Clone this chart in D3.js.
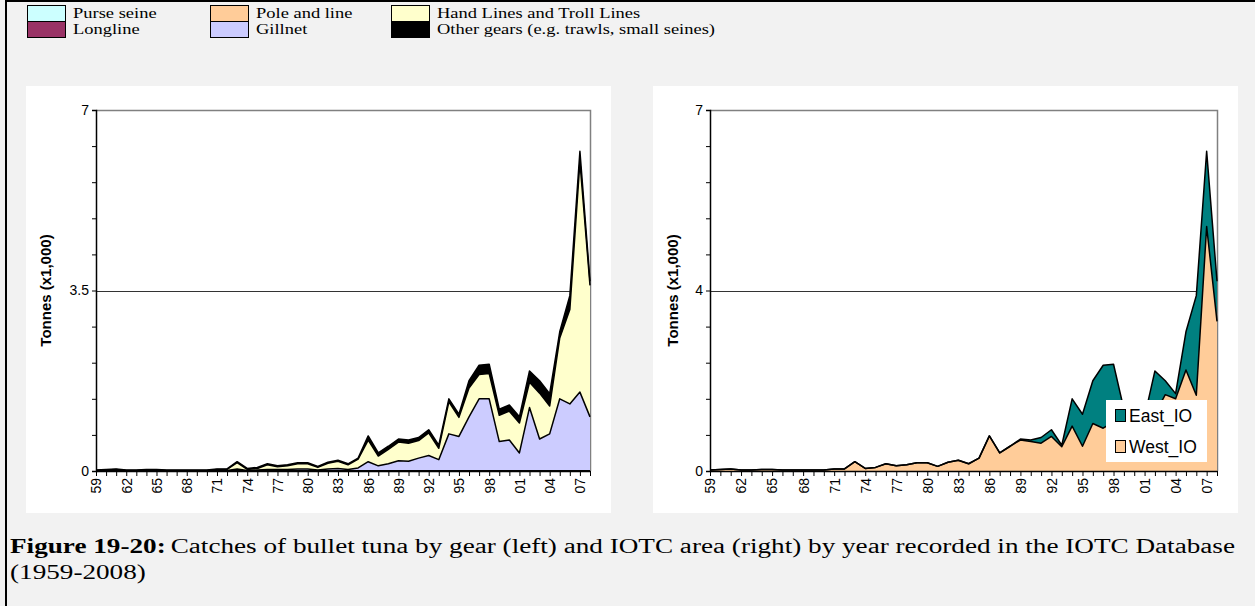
<!DOCTYPE html>
<html>
<head>
<meta charset="utf-8">
<script src="https://cdn.jsdelivr.net/npm/d3@7"></script>
<style>
  body { margin: 0; background: #f2f2f2; }
  svg text { font-family: "Liberation Sans", Arial, sans-serif; fill: #000; }
  svg text.serif { font-family: "Liberation Serif", "Times New Roman", serif; }
</style>
</head>
<body>
<script>
// Bullet tuna catches, thousands of tonnes, 1959-2008
var years = d3.range(1959, 2009);

var purseSeine = [0,0,0,0,0,0,0,0,0,0, 0,0,0,0,0,0,0,0,0,0, 0,0,0,0,0,0,0,0,0,0, 0,0,0,0,0,0,0,0,0,0, 0,0,0,0,0,0,0,0,0,0];
var longline   = [0,0,0,0,0,0,0,0,0,0, 0,0,0,0,0,0,0,0,0,0, 0,0,0,0,0,0,0,0,0,0, 0,0,0,0,0,0,0,0,0,0, 0,0,0,0,0,0,0,0,0,0];
var poleLine   = [0,0,0,0,0,0,0,0,0,0, 0,0,0,0,0,0,0,0,0,0, 0,0,0,0,0,0,0,0,0,0, 0,0,0,0,0,0,0,0,0,0, 0,0,0,0,0,0,0,0,0,0];
var gillnet    = [0,0,0,0,0,0,0,0,0,0, 0,0,0.01,0.01,0.04,0.01,0.02,0.03,0.03,0.03,
                  0.04,0.04,0.02,0.04,0.05,0.03,0.06,0.18,0.10,0.14,
                  0.20,0.19,0.25,0.30,0.22,0.72,0.67,1.05,1.40,1.40,
                  0.57,0.60,0.35,1.23,0.62,0.72,1.40,1.30,1.53,1.05];
var handTroll  = [0.01,0.02,0.03,0.01,0.01,0.02,0.02,0.01,0.01,0.01,
                  0.01,0.01,0.02,0.02,0.12,0.02,0.03,0.09,0.05,0.07,
                  0.10,0.10,0.05,0.11,0.14,0.09,0.17,0.42,0.19,0.28,
                  0.36,0.35,0.34,0.44,0.22,0.62,0.37,0.56,0.47,0.49,
                  0.51,0.56,0.58,0.49,0.89,0.54,1.18,1.83,4.47,2.55];
var otherGears = [0.01,0.01,0.01,0.01,0.01,0.01,0.01,0.01,0.01,0.01,
                  0.01,0.01,0.01,0.01,0.02,0.02,0.02,0.02,0.02,0.02,
                  0.02,0.02,0.02,0.02,0.02,0.02,0.02,0.08,0.06,0.06,
                  0.06,0.06,0.06,0.06,0.06,0.06,0.06,0.14,0.18,0.18,
                  0.12,0.12,0.12,0.22,0.24,0.24,0.12,0.27,0.20,0.08];

var westIO = [0.02,0.03,0.04,0.02,0.02,0.03,0.03,0.02,0.02,0.02,
              0.02,0.02,0.04,0.04,0.18,0.05,0.07,0.14,0.10,0.12,
              0.16,0.16,0.09,0.17,0.21,0.14,0.25,0.68,0.35,0.48,
              0.60,0.57,0.54,0.67,0.47,0.87,0.48,0.92,0.83,0.95,
              0.60,0.65,0.55,1.10,1.48,1.40,1.96,1.47,4.74,2.90];
var eastIO = [0,0,0,0,0,0,0,0,0,0, 0,0,0,0,0,0,0,0,0,0,
              0,0,0,0,0,0,0,0,0,0,
              0.02,0.03,0.11,0.13,0.03,0.53,0.62,0.83,1.22,1.12,
              0.60,0.63,0.50,0.84,0.27,0.10,0.74,1.93,1.46,0.78];

var gearNames  = ["Purse seine", "Longline", "Pole and line", "Gillnet", "Hand Lines and Troll Lines", "Other gears (e.g. trawls, small seines)"];
var gearColors = ["#ccffff", "#993366", "#ffcc99", "#ccccff", "#ffffcc", "#000000"];
var areaNames  = ["East_IO", "West_IO"];
var areaColors = ["#008080", "#ffcc99"];

var yTicks = [0, 0.7, 1.4, 2.1, 2.8, 3.5, 4.2, 4.9, 5.6, 6.3, 7];
var leftYLabels  = {0: "0", 3.5: "3.5", 7: "7"};
var rightYLabels = {0: "0", 3.5: "4", 7: "7"};
var yLabel = "Tonnes (x1,000)";
var captionBold = "Figure 19-20:";
var captionLine1 = "Catches of bullet tuna by gear (left) and IOTC area (right) by year recorded in the IOTC Database";
var captionLine2 = "(1959-2008)";

var W = 1255, H = 606;
var plotTop = 110, plotBottom = 471;

var svg = d3.select("body").append("svg")
    .attr("width", W)
    .attr("height", H);

svg.append("rect").attr("width", W).attr("height", H).attr("fill", "#f2f2f2");
// figure frame
svg.append("line").attr("x1", 6).attr("x2", 6).attr("y1", 0).attr("y2", H)
    .attr("stroke", "#000").attr("stroke-width", 2);
svg.append("line").attr("x1", 6).attr("x2", W).attr("y1", 1).attr("y2", 1)
    .attr("stroke", "#000").attr("stroke-width", 2);

// white chart panels
svg.append("rect").attr("x", 26).attr("y", 86).attr("width", 585).attr("height", 427).attr("fill", "#fff");
svg.append("rect").attr("x", 653).attr("y", 86).attr("width", 585).attr("height", 427).attr("fill", "#fff");

// ---- top legend (gears)
var legendCols = [27, 210, 391];
var gLeg = svg.append("g").attr("class", "gear-legend");
var legTexts = [];
gearNames.forEach(function(name, i) {
  var cx = legendCols[Math.floor(i / 2)],
      cy = 5 + (i % 2) * 16;
  gLeg.append("rect")
      .attr("x", cx + 0.5).attr("y", cy + 0.5)
      .attr("width", 38).attr("height", 16)
      .attr("fill", gearColors[i])
      .attr("stroke", "#000").attr("stroke-width", 1);
  legTexts.push(gLeg.append("text")
      .attr("class", "serif")
      .attr("x", cx + 46).attr("y", cy + 13)
      .style("font-size", "15.5px")
      .text(name));
});
// the source renders the legend text a bit wider than Liberation Serif: stretch to match
var legK = 278 / legTexts[5].node().getComputedTextLength();
legTexts.forEach(function(t) {
  t.attr("textLength", t.node().getComputedTextLength() * legK)
   .attr("lengthAdjust", "spacingAndGlyphs");
});

function drawChart(opts) {
  var g = svg.append("g");
  var x = d3.scalePoint().domain(years).range([opts.x0, opts.x1]);
  var y = d3.scaleLinear().domain([0, 7]).range([plotBottom, plotTop]);

  // plot frame (top / right) and gridline
  g.append("path")
      .attr("d", `M${opts.x0},${plotTop + 0.5}H${opts.x1 + 0.5}V${plotBottom}`)
      .attr("fill", "none").attr("stroke", "#808080").attr("stroke-width", 1.5);
  g.append("line")
      .attr("x1", opts.x0).attr("x2", opts.x1)
      .attr("y1", Math.round(y(3.5)) + 0.5).attr("y2", Math.round(y(3.5)) + 0.5)
      .attr("stroke", "#333").attr("stroke-width", 1);

  var stacked = d3.stack().keys(d3.range(opts.series.length))
      .value(function(d, k) { return opts.series[k][d]; })(d3.range(years.length));

  var area = d3.area()
      .x(function(d, i) { return x(years[i]); })
      .y0(function(d) { return y(d[0]); })
      .y1(function(d) { return y(d[1]); });
  var topLine = d3.line()
      .x(function(d, i) { return x(years[i]); })
      .y(function(d) { return y(d[1]); });

  g.append("g").selectAll("path")
      .data(stacked)
      .enter().append("path")
      .attr("d", area)
      .attr("fill", function(d, i) { return opts.colors[i]; });
  g.append("g").selectAll("path")
      .data(stacked)
      .enter().append("path")
      .attr("d", topLine)
      .attr("fill", "none")
      .attr("stroke", "#000")
      .attr("stroke-width", 1.5)
      .attr("stroke-linejoin", "round");

  // axes
  var yAxis = d3.axisLeft(y).tickValues(yTicks).tickSize(4)
      .tickFormat(function(d) { var k = Math.round(d * 10) / 10; return opts.yLabels[k] || ""; });
  var gy = g.append("g")
      .attr("transform", `translate(${opts.x0},0)`)
      .call(yAxis);
  gy.select(".domain").attr("stroke-width", 1.5);
  gy.selectAll("text").style("font-size", "14px").attr("x", -7);

  var xAxis = d3.axisBottom(x).tickSize(5).tickSizeOuter(0)
      .tickFormat(function(d) { return (d - 1959) % 3 === 0 ? String(d).slice(2) : ""; });
  var gx = g.append("g")
      .attr("transform", `translate(0,${plotBottom})`)
      .call(xAxis);
  gx.select(".domain").attr("stroke-width", 1.5);
  gx.selectAll("text")
      .style("font-size", "14px")
      .attr("transform", "rotate(-90)")
      .attr("text-anchor", "end")
      .attr("x", -7).attr("y", 0).attr("dy", "0.35em");

  g.append("text")
      .attr("transform", `translate(${opts.labelX},${(plotTop + plotBottom) / 2}) rotate(-90)`)
      .attr("text-anchor", "middle")
      .style("font-size", "15px").style("font-weight", "bold")
      .text(yLabel);
  return {x: x, y: y, g: g};
}

drawChart({
  x0: 96, x1: 590, labelX: 51,
  series: [purseSeine, longline, poleLine, gillnet, handTroll, otherGears],
  colors: gearColors,
  yLabels: leftYLabels
});

var right = drawChart({
  x0: 710, x1: 1217, labelX: 678,
  series: [westIO, eastIO],
  colors: [areaColors[1], areaColors[0]],
  yLabels: rightYLabels
});

// area legend inside the right plot
var lg = right.g.append("g").attr("transform", "translate(1106,400)");
lg.append("rect").attr("width", 101).attr("height", 62).attr("fill", "#fff");
areaNames.forEach(function(name, i) {
  lg.append("rect")
      .attr("x", 9.5).attr("y", 9.5 + i * 31)
      .attr("width", 10).attr("height", 12)
      .attr("fill", areaColors[i]).attr("stroke", "#000");
  lg.append("text")
      .attr("x", 23).attr("y", 22 + i * 31)
      .style("font-size", "17.5px")
      .text(name);
});

// caption: bold lead-in + text, stretched to the page width like the source
var capB = svg.append("text").attr("class", "serif")
    .attr("x", 10).attr("y", 553)
    .style("font-size", "20px").style("font-weight", "bold")
    .text(captionBold);
var capT = svg.append("text").attr("class", "serif")
    .attr("y", 553)
    .style("font-size", "20px")
    .text(captionLine1);
var capL2 = svg.append("text").attr("class", "serif")
    .attr("x", 10).attr("y", 579)
    .style("font-size", "20px")
    .text(captionLine2);
var wB = capB.node().getComputedTextLength(),
    wT = capT.node().getComputedTextLength(),
    gap = 5;
var capK = (1225 - gap) / (wB + wT);
capB.attr("textLength", wB * capK).attr("lengthAdjust", "spacingAndGlyphs");
capT.attr("x", 10 + wB * capK + gap)
    .attr("textLength", wT * capK).attr("lengthAdjust", "spacingAndGlyphs");
capL2.attr("textLength", capL2.node().getComputedTextLength() * capK)
    .attr("lengthAdjust", "spacingAndGlyphs");
</script>
</body>
</html>
